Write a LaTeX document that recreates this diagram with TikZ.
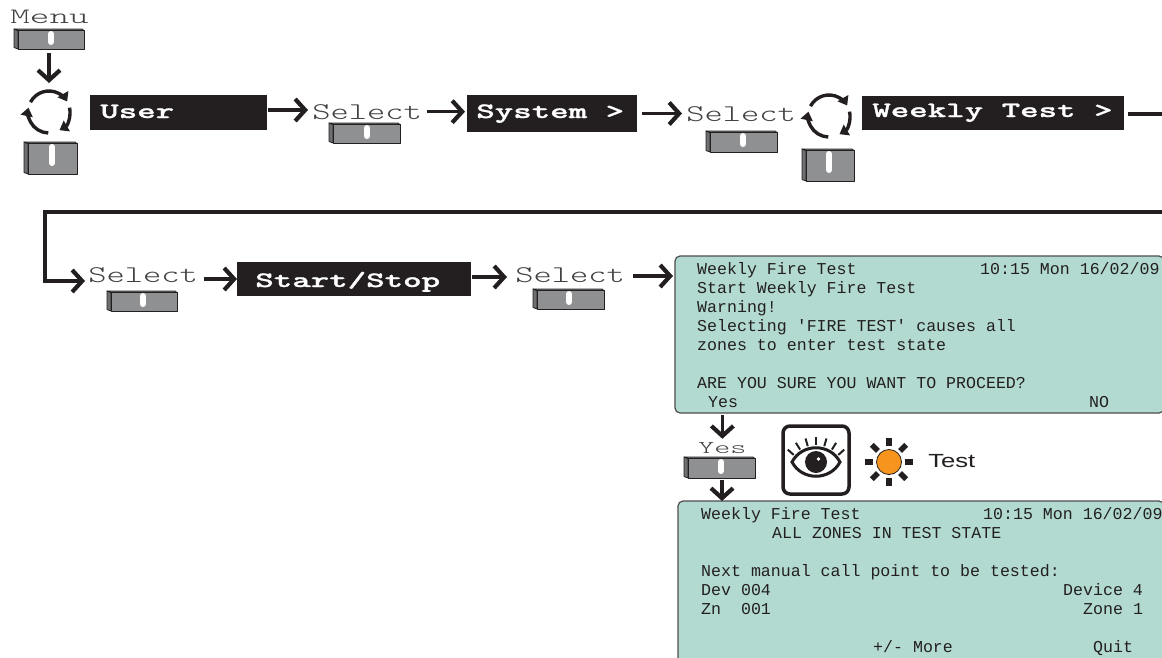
\documentclass[tikz,border=0pt]{standalone}
\usepackage{fontspec}
\usetikzlibrary{arrows.meta,positioning,calc}
\newfontfamily\lcdfont{Liberation Mono}
\newfontfamily\testfont{Liberation Sans}
\newfontfamily\barfont[FakeBold=1]{lmmonolt10-bold.otf}
\definecolor{inkblack}{HTML}{231F20}
\definecolor{keygray}{HTML}{8F9091}
\definecolor{keyside}{HTML}{6E6F71}
\definecolor{lcdgreen}{HTML}{B2DAD0}
\definecolor{lampamber}{HTML}{F7941E}
\tikzset{
	flow/.style={line width=3.2pt, draw=inkblack, -{Straight Barb[length=10pt,width=22pt,line width=4.2pt]}},
	wire/.style={line width=3.2pt, draw=inkblack},
	cyclearc/.style={line width=3.4pt, draw=inkblack, -{Triangle[length=8.5pt,width=12pt]}},
	barbox/.style={fill=inkblack, inner sep=0pt, outer sep=0pt},
	bartext/.style={anchor=base west, inner sep=0pt, text=white, font=\barfont\fontsize{22}{22}\selectfont, xscale=1.6, transform shape},
	keytext/.style={anchor=base west, inner sep=0pt, text=inkblack!85, font=\ttfamily\fontseries{l}\fontsize{24}{24}\selectfont, xscale=1.45, transform shape},
	lcdbox/.style={draw=inkblack!80, line width=1.2pt, fill=lcdgreen, rounded corners=5pt, inner sep=0pt, outer sep=0pt},
	lcdtext/.style={anchor=base west, inner sep=0pt, text=inkblack, font=\lcdfont\fontsize{16.6}{16.6}\selectfont},
	keyface/.style={draw=inkblack, line width=1pt, fill=keygray, line join=round},
	keyedge/.style={draw=inkblack, line width=.8pt, fill=keyside, line join=round},
	keyslot/.style={draw=white, line width=6pt, line cap=round},
	cycleicon/.pic={
		\draw[cyclearc] (152:21pt) arc (152:30:21pt);
		\draw[cyclearc] (12:21pt) arc (12:-60:21pt);
		\draw[cyclearc] (-92:21pt) arc (-92:-192:21pt);
	}
}
% key: left, top, right, bottom, slot x, slot end
\newcommand{\keycap}[6]{
	\draw[keyedge] (#1, #2) -- (#1+4, #2+1.5) -- (#1+4, #4) -- (#1, #4-1.5) -- cycle;
	\draw[keyedge] (#1, #2) -- (#3-2, #2) -- (#3, #2+1.5) -- (#1+4, #2+1.5) -- cycle;
	\draw[keyface] (#1+4, #2+1.5) rectangle (#3, #4);
	\draw[keyslot] (#5, #2+5) -- (#5, #6);
}
\begin{document}
\begin{tikzpicture}[x=1pt, y=-1pt]
	\useasboundingbox (0, 0) rectangle (1162, 657);

	% first row
	\node[keytext, font=\ttfamily\fontseries{l}\fontsize{22}{22}\selectfont, xscale=1.17] (menulabel) at (10, 23) {Menu};
	\keycap{14}{29}{84}{49}{51}{42}
	\coordinate (cyclea) at (49, 112);
	\pic at (cyclea) {cycleicon};
	\keycap{24}{142}{77}{174}{52}{163}
	\node[barbox, minimum width=177pt, minimum height=35pt] (userbox) at (178.5, 112.5) {};
	\node[bartext] (usertext) at (100, 118) {User};
	\node[keytext] (selecta) at (312, 119) {Select};
	\keycap{329}{123}{400}{143}{367}{136}
	\node[barbox, minimum width=170pt, minimum height=37pt] (systembox) at (552, 113.5) {};
	\node[bartext] (systemtext) at (476, 118) {System >};
	\node[keytext] (selectb) at (686, 121) {Select};
	\keycap{706}{131}{777}{152}{743}{144}
	\coordinate (cycleb) at (829, 116);
	\pic at (cycleb) {cycleicon};
	\keycap{802}{149}{854}{181}{829}{170}
	\node[barbox, minimum width=262pt, minimum height=34pt] (weeklybox) at (993, 113) {};
	\node[bartext] (weeklytext) at (872, 117) {Weekly Test >};

	\coordinate (menudown) at (49, 53);
	\coordinate (cycletop) at (49, 83);
	\draw[flow] (menudown) -- (cycletop);
	\draw[flow] ([shift={(1, -2.5)}]userbox.east) -- ([shift={(-4, -2.5)}]userbox.east -| selecta.west);
	\draw[flow] ([xshift=5pt]selecta.east) -- ([xshift=-2pt]selecta.east -| systembox.west);
	\draw[flow] ([xshift=5pt]systembox.east) -- ([xshift=-4pt]systembox.east -| selectb.west);

	% wrap to second row
	\node[keytext] (selectc) at (88, 282) {Select};
	\coordinate (wrapa) at (1166, 114);
	\coordinate (wrapb) at (1166, 212);
	\coordinate (wrapc) at (45, 212);
	\coordinate (wrapd) at (45, 281);
	\draw[wire] ([shift={(4, 1)}]weeklybox.east) -- (wrapa);
	\draw[flow, line join=miter, shorten >=3pt] (wrapb) -- (wrapc) -- (wrapd) -- (wrapd -| selectc.west);

	% second row
	\keycap{107}{291}{177}{311}{143}{304}
	\node[barbox, minimum width=234pt, minimum height=34pt] (startbox) at (354, 279) {};
	\node[bartext] (starttext) at (255, 287) {Start/Stop};
	\node[keytext] (selectd) at (515, 282) {Select};
	\keycap{533}{289}{604}{309}{569}{302}
	\draw[flow] ([xshift=6pt]selectc.east |- startbox.west) -- (startbox.west);
	\draw[flow] ([shift={(1, -2)}]startbox.east) -- ([shift={(-8, -2)}]startbox.east -| selectd.west);

	% first display
	\node[lcdbox, minimum width=489pt, minimum height=157pt] (lcda) at (919.5, 334.5) {};
	\coordinate (lcdaleft) at (673, 276);
	\draw[flow] ([xshift=8pt]selectd.east |- lcdaleft) -- (lcdaleft);
	\node[lcdtext] (lcdaa) at (697, 274) {Weekly Fire Test};
	\node[lcdtext] (lcdab) at (980, 274) {10:15 Mon 16/02/09};
	\node[lcdtext] (lcdac) at (697, 293) {Start Weekly Fire Test};
	\node[lcdtext] (lcdad) at (697, 312) {Warning!};
	\node[lcdtext] (lcdae) at (697, 331) {Selecting 'FIRE TEST' causes all};
	\node[lcdtext] (lcdaf) at (697, 350) {zones to enter test state};
	\node[lcdtext] (lcdag) at (697, 388) {ARE YOU SURE YOU WANT TO PROCEED?};
	\node[lcdtext] (lcdah) at (708, 407) {Yes};
	\node[lcdtext] (lcdai) at (1089, 407) {NO};

	% second display
	\node[lcdbox, minimum width=486pt, minimum height=167pt] (lcdb) at (921, 584.5) {};
	\node[lcdtext] (lcdba) at (701, 519) {Weekly Fire Test};
	\node[lcdtext] (lcdbb) at (983, 519) {10:15 Mon 16/02/09};
	\node[lcdtext] (lcdbc) at (772, 538) {ALL ZONES IN TEST STATE};
	\node[lcdtext] (lcdbd) at (701, 576) {Next manual call point to be tested:};
	\node[lcdtext] (lcdbe) at (701, 595) {Dev 004};
	\node[lcdtext] (lcdbf) at (1063, 595) {Device 4};
	\node[lcdtext] (lcdbg) at (701, 614) {Zn\ \ 001};
	\node[lcdtext] (lcdbh) at (1083, 614) {Zone 1};
	\node[lcdtext] (lcdbi) at (873, 652) {+/- More};
	\node[lcdtext] (lcdbj) at (1093, 652) {Quit};

	% yes key
	\node[keytext, font=\ttfamily\fontseries{l}\fontsize{18}{18}\selectfont, xscale=1.17] (yeslabel) at (698, 453) {Yes};
	\keycap{684}{457}{755}{478}{721}{471}
	\coordinate (yesout) at (722, 480);
	\draw[flow] ([yshift=-2pt]lcda.south -| yeslabel.north) -- ([yshift=3pt]yeslabel.north);
	\draw[flow] (yesout) -- (yesout |- lcdb.north);

	% eye
	\draw[inkblack, line width=3.5pt, rounded corners=7pt] (783, 426) rectangle (849, 494);
	\draw[inkblack, line width=3pt, fill=white] (792, 462) .. controls (802, 443) and (830, 443) .. (840, 462) .. controls (830, 481) and (802, 481) .. (792, 462) -- cycle;
	\fill[inkblack] (816, 462) circle (11pt);
	\fill[white] (818.5, 459) circle (1.8pt);
	\begin{scope}[shift={(816, 475)}]
		\foreach \a in {42, 58, ..., 138}
			\draw[inkblack, line width=2pt] (\a:30pt) -- (\a:38pt);
	\end{scope}

	% lamp
	\begin{scope}[shift={(889, 462)}]
		\foreach \a in {0, 45, ..., 315}
			\draw[inkblack, line width=5.5pt] (\a:15.7pt) -- (\a:24.3pt);
		\draw[inkblack, line width=.8pt, fill=lampamber] (0, 0) circle (12.5pt);
	\end{scope}
	\node[anchor=base west, inner sep=0pt, text=inkblack, font=\testfont\fontsize{19}{19}\selectfont, xscale=1.35, transform shape] (testlabel) at (928, 467) {Test};
\end{tikzpicture}
\end{document}
